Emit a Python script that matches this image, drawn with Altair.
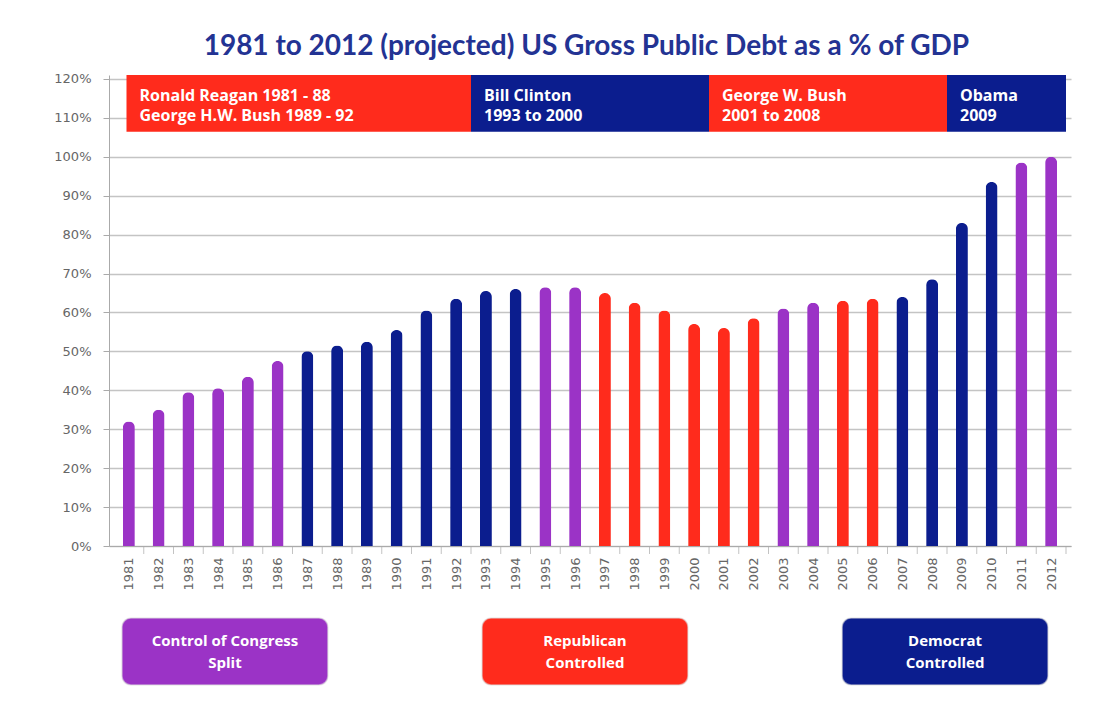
import altair as alt
import pandas as pd

# ---------------- data ----------------
years = list(range(1981, 2013))
debt_pct = [32, 35, 39.5, 40.5, 43.5, 47.5, 50, 51.5, 52.5, 55.5, 60.5, 63.5,
            65.5, 66, 66.5, 66.5, 65, 62.5, 60.5, 57, 56, 58.5, 61, 62.5,
            63, 63.5, 64, 68.5, 83, 93.5, 98.5, 100]
congress_control = (["Split"] * 6 + ["Democrat"] * 8 + ["Split"] * 2 +
                    ["Republican"] * 6 + ["Split"] * 2 + ["Republican"] * 2 +
                    ["Democrat"] * 4 + ["Split"] * 2)

terms = ["Ronald Reagan 1981 - 88\nGeorge H.W. Bush 1989 - 92",
         "Bill Clinton\n1993 to 2000",
         "George W. Bush\n2001 to 2008",
         "Obama\n2009"]
term_first_year = [1981, 1993, 2001, 2009]
term_last_year = [1992, 2000, 2008, 2012]
term_party = ["Republican", "Democrat", "Republican", "Democrat"]

legend_groups = ["Split", "Republican", "Democrat"]
legend_labels = ["Control of Congress\nSplit", "Republican\nControlled", "Democrat\nControlled"]

y_ticks = list(range(0, 121, 10))

title_text = "1981 to 2012 (projected) US Gross Public Debt as a % of GDP"

# ---------------- style ----------------
PURPLE = "#9B33C6"
RED = "#FF2B1C"
NAVY = "#0B1D8E"
GRAY_TXT = "#666666"
color_scale = alt.Scale(domain=["Split", "Republican", "Democrat"], range=[PURPLE, RED, NAVY])

bars_df = pd.DataFrame({"year": years, "debt": debt_pct, "control": congress_control})
terms_df = pd.DataFrame({"term": terms, "first": term_first_year,
                         "last": term_last_year, "party": term_party})
legend_df = pd.DataFrame({"group": legend_groups, "label": legend_labels})

x_scale = alt.Scale(domain=[1980.5, 2012.5], nice=False, zero=False)
y_scale = alt.Scale(domain=[0, 121], nice=False)

x_axis = alt.Axis(values=years, format="d", labelAngle=-90, grid=False,
                  labelOverlap=False, labelFlush=False,
                  labelFont="DejaVu Sans", labelFontSize=13, labelColor=GRAY_TXT,
                  domainColor="#AAAAAA", ticks=False, labelPadding=11, title=None)
y_axis = alt.Axis(values=y_ticks, labelExpr="datum.value + '%'",
                  labelOverlap=False, labelFlush=False,
                  labelFont="DejaVu Sans", labelFontSize=13, labelColor=GRAY_TXT,
                  gridColor="#C4C4C4", gridWidth=1.5, domainColor="#AAAAAA",
                  tickColor="#AAAAAA", tickSize=6, labelPadding=12, title=None)

W, H = 962, 471

bars = alt.Chart(bars_df).mark_bar(size=12, cornerRadiusEnd=6).encode(
    x=alt.X("year:Q", scale=x_scale, axis=x_axis),
    y=alt.Y("debt:Q", scale=y_scale, axis=y_axis),
    color=alt.Color("control:N", scale=color_scale, legend=None),
)

# small ticks between the year bars, below the baseline
year_ticks = alt.Chart(bars_df).transform_calculate(
    edge="datum.year + 0.5"
).mark_tick(orient="vertical", size=8, thickness=1, yOffset=4, color="#AAAAAA").encode(
    x=alt.X("edge:Q", scale=x_scale, axis=x_axis),
    y=alt.YDatum(0, scale=y_scale, axis=y_axis),
)

banner = alt.Chart(terms_df).transform_calculate(
    x0="max(datum.first - 0.5, 1980.92)", x1="datum.last + 0.5"
).mark_rect().encode(
    x=alt.X("x0:Q", scale=x_scale, axis=x_axis),
    x2="x1:Q",
    y=alt.YDatum(106.4, scale=y_scale, axis=y_axis),
    y2=alt.Y2Datum(121),
    color=alt.Color("party:N", scale=color_scale, legend=None),
)

banner_text = alt.Chart(terms_df).transform_calculate(
    x0="max(datum.first - 0.5, 1980.92)"
).mark_text(align="left", baseline="middle", dx=13, lineBreak="\n", lineHeight=20,
            font="Open Sans", fontSize=16, fontWeight="bold", color="white").encode(
    x=alt.X("x0:Q", scale=x_scale, axis=x_axis),
    y=alt.YDatum(115.6, scale=y_scale, axis=y_axis),
    text="term:N",
)

main = alt.layer(bars, year_ticks, banner, banner_text).properties(width=W, height=H)

legend_x = alt.X("group:N", sort=legend_groups, axis=None,
                 scale=alt.Scale(paddingInner=0.428, paddingOuter=0.036))
legend_box = alt.Chart(legend_df).mark_rect(cornerRadius=9, strokeWidth=1.5, strokeOpacity=0.6,
                                            stroke="#DDDDDD").encode(
    x=legend_x,
    color=alt.Color("group:N", scale=color_scale, legend=None),
)
legend_text = alt.Chart(legend_df).mark_text(lineBreak="\n", lineHeight=22, baseline="middle",
                                             dy=-11, font="Open Sans", fontSize=15,
                                             fontWeight="bold", color="white").encode(
    x=legend_x,
    text="label:N",
)
legend = alt.layer(legend_box, legend_text).properties(width=952, height=67)

chart = alt.vconcat(main, legend, spacing=26).properties(
    title=alt.TitleParams(title_text, font="Lato", fontSize=28, fontWeight="bold",
                          color="#233393", anchor="middle", offset=14, dx=24, dy=2),
    padding={"left": 53, "top": 32, "right": 5, "bottom": 5},
).configure_view(stroke=None).configure_axis(labelOverlap=False)

chart.save("out.html", embed_options={"renderer": "svg", "actions": False})
